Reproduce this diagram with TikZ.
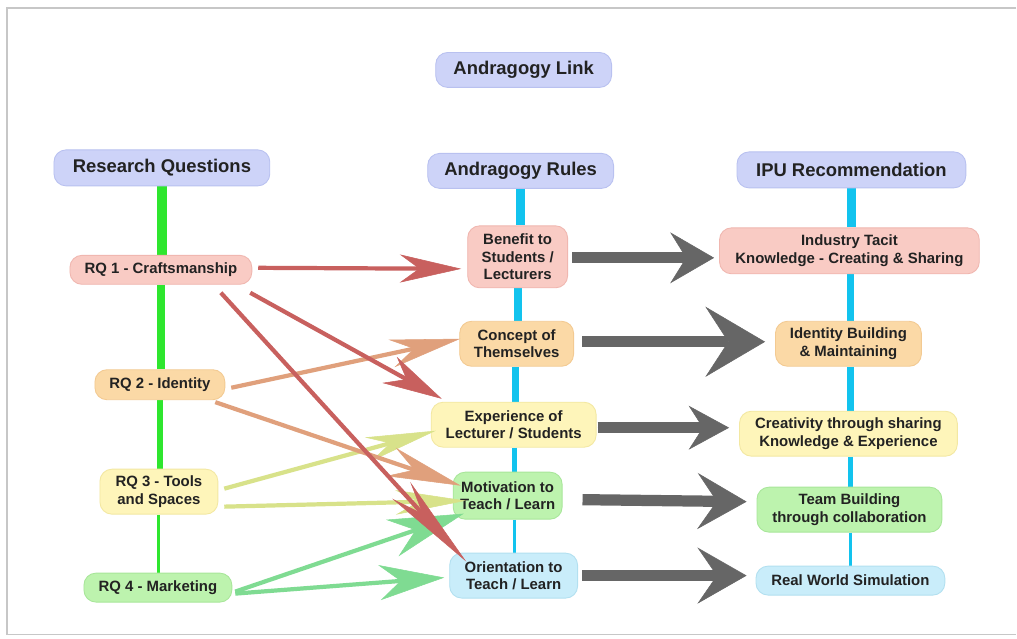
\documentclass[tikz,border=0pt]{standalone}
\usepackage{fontspec}
\setmainfont{Liberation Sans}
\usetikzlibrary{arrows.meta,calc,backgrounds}
\pgfdeclarelayer{paper}
\pgfsetlayers{paper,background,main}
\definecolor{hdrF}{HTML}{CDD3F8}\definecolor{hdrD}{HTML}{B9C1F0}
\definecolor{pinkF}{HTML}{F9CBC4}\definecolor{pinkD}{HTML}{F0B7B0}
\definecolor{orgF}{HTML}{FBD9A6}\definecolor{orgD}{HTML}{F3CA92}
\definecolor{yelF}{HTML}{FEF5BA}\definecolor{yelD}{HTML}{F3E8A2}
\definecolor{grnF}{HTML}{BDF3AE}\definecolor{grnD}{HTML}{A8E69A}
\definecolor{cyaF}{HTML}{C9EDFA}\definecolor{cyaD}{HTML}{B2E0F0}
\definecolor{gLine}{HTML}{2EE62E}\definecolor{bLine}{HTML}{12C3EE}
\definecolor{aRed}{HTML}{C8605E}\definecolor{aTan}{HTML}{E0A07C}
\definecolor{aYel}{HTML}{D8E28A}\definecolor{aGrn}{HTML}{7FDB92}
\definecolor{aGry}{HTML}{666666}\definecolor{txt}{HTML}{222222}
\begin{document}
\begin{tikzpicture}[x=0.02cm,y=-0.02cm,
  box/.style={rounded corners=0.24cm, inner sep=0pt, align=center, text=txt,
    font=\fontsize{8.5}{10}\selectfont\bfseries, line width=0.5pt},
  hdr/.style={box, fill=hdrF, draw=hdrD, font=\fontsize{10.5}{12.6}\selectfont\bfseries},
  pinkbox/.style={box, fill=pinkF, draw=pinkD},
  orgbox/.style={box, fill=orgF, draw=orgD},
  yelbox/.style={box, fill=yelF, draw=yelD},
  grnbox/.style={box, fill=grnF, draw=grnD},
  cyabox/.style={box, fill=cyaF, draw=cyaD},
  sz/.style 2 args={minimum width=#1, minimum height=#2},
  carrow/.style={line width=2.4pt, draw=#1, fill=#1},
  garrow/.style={line width=6.4pt, draw=aGry, fill=aGry},
  head/.style n args={3}{-{Stealth[length=#1,width=#2,inset=#3,line width=0.3pt]}}
]
\begin{pgfonlayer}{paper}
\fill[white] (0,0) rectangle (1017,639);
\draw[black!22, line width=0.8pt] (1017,8) -- (7,8) -- (7,635) -- (1017,635);
\end{pgfonlayer}
\useasboundingbox (0,0) rectangle (1017,639);

% headers
\node[hdr, sz={3.52cm}{0.70cm}] (link) at (524,70) {Andragogy Link};
\node[hdr, sz={4.32cm}{0.72cm}] (rqh) at (162,168) {Research Questions};
\node[hdr, sz={3.72cm}{0.70cm}] (arh) at (521,171) {Andragogy Rules};
\node[hdr, sz={4.58cm}{0.72cm}] (ipuh) at (852,170) {IPU Recommendation};

% research questions
\node[pinkbox, sz={3.64cm}{0.58cm}] (rq1) at (161,270) {RQ 1 - Craftsmanship};
\node[orgbox, sz={2.60cm}{0.60cm}] (rq2) at (160,385) {RQ 2 - Identity};
\node[yelbox, sz={2.36cm}{0.90cm}] (rq3) at (159,492) {RQ 3 - Tools\\and Spaces};
\node[grnbox, sz={2.96cm}{0.58cm}] (rq4) at (158,588) {RQ 4 - Marketing};

% andragogy rules
\node[pinkbox, sz={2.00cm}{1.24cm}] (ben) at (518,257) {Benefit to\\Students /\\Lecturers};
\node[orgbox, sz={2.28cm}{0.90cm}] (con) at (517,344) {Concept of\\Themselves};
\node[yelbox, sz={3.30cm}{0.90cm}] (exp) at (514,425) {Experience of\\Lecturer / Students};
\node[grnbox, sz={2.18cm}{0.94cm}] (mot) at (508,496) {Motivation to\\Teach / Learn};
\node[cyabox, sz={2.56cm}{0.90cm}] (ori) at (514,576) {Orientation to\\Teach / Learn};

% IPU recommendations
\node[pinkbox, sz={5.20cm}{0.92cm}] (ind) at (850,251) {Industry Tacit\\Knowledge - Creating \& Sharing};
\node[orgbox, sz={2.92cm}{0.90cm}] (idb) at (849,344) {Identity Building\\\& Maintaining};
\node[yelbox, sz={4.36cm}{0.90cm}] (cre) at (849,434) {Creativity through sharing\\Knowledge \& Experience};
\node[grnbox, sz={3.70cm}{0.90cm}] (team) at (850,510) {Team Building\\through collaboration};
\node[cyabox, sz={3.78cm}{0.58cm}] (real) at (851,581) {Real World Simulation};

% vertical column lines
\begin{scope}[on background layer]
\draw[gLine, line width=5.6pt] (rqh.south) -- (rqh.south |- rq1.north);
\draw[gLine, line width=5pt] (rq1.south) -- (rq1.south |- rq2.north);
\draw[gLine, line width=3.2pt] (rq2.south) -- (rq2.south |- rq3.north);
\draw[gLine, line width=1.6pt] (rq3.south) -- (rq3.south |- rq4.north);

\draw[bLine, line width=5pt] (arh.south) -- (arh.south |- ben.north);
\draw[bLine, line width=4.4pt] (ben.south) -- (ben.south |- con.north);
\draw[bLine, line width=3.6pt] ($(con.south)+(-1,0)$) -- ($(con.south |- exp.north)+(-1,0)$);
\draw[bLine, line width=2.8pt] ($(exp.south)+(1,0)$) -- ($(exp.south |- mot.north)+(1,0)$);
\draw[bLine, line width=1.8pt] ($(mot.south)+(7,0)$) -- ($(mot.south |- ori.north)+(7,0)$);

\draw[bLine, line width=5pt] (ipuh.south) -- (ipuh.south |- ind.north);
\draw[bLine, line width=4.4pt] ($(ind.south)+(1,0)$) -- ($(ind.south |- idb.north)+(1,0)$);
\draw[bLine, line width=3.6pt] ($(idb.south)+(2,0)$) -- ($(idb.south |- cre.north)+(2,0)$);
\draw[bLine, line width=2.8pt] ($(cre.south)+(2,0)$) -- ($(cre.south |- team.north)+(2,0)$);
\draw[bLine, line width=1.8pt] ($(team.south)+(1,0)$) -- ($(team.south |- real.north)+(1,0)$);
\end{scope}

% gray arrows rules -> IPU
\draw[garrow, head={25pt}{29pt}{9pt}] ($(ben.east)+(4,1)$) -- ($(ind.west)+(-5,7)$);
\draw[garrow, head={34pt}{40pt}{13pt}] ($(con.east)+(8,-2)$) -- ($(idb.west)+(-10,-2)$);
\draw[garrow, head={23pt}{25pt}{8pt}] ($(exp.east)+(1,3)$) -- ($(cre.west)+(-10,-6)$);
\draw[garrow, head={28pt}{32pt}{11pt}] ($(mot.east)+(20,4)$) -- ($(team.west)+(-10,-8)$);
\draw[garrow, head={28pt}{32pt}{11pt}] ($(ori.east)+(4,0)$) -- ($(real.west)+(-9,-5)$);

% coloured arrows from research questions
\draw[carrow=aYel, head={40pt}{14pt}{13pt}] ($(rq3.east)+(6,-3)$) -- ($(exp.west)+(5,6)$);
\draw[carrow=aTan, head={40pt}{16pt}{13pt}] ($(rq2.east)+(6,3)$) -- ($(con.west)+(1,-5)$);
\draw[carrow=aTan, head={42pt}{17pt}{14pt}] ($(rq2.south east)+(-10,2)$) -- ($(mot.west)+(8,-10)$);
\draw[carrow=aGrn, head={43pt}{22pt}{14pt}] ($(rq4.east)+(3,4)$) -- ($(mot.west)+(11,18)$);
\draw[carrow=aGrn, head={37pt}{20pt}{12pt}] ($(rq4.east)+(3,6)$) -- ($(ori.west)+(-5,2)$);
\draw[carrow=aYel, head={40pt}{14pt}{13pt}] ($(rq3.east)+(6,15)$) -- ($(mot.west)+(13,5)$);
\draw[carrow=aRed, head={35pt}{16pt}{11pt}] ($(rq1.east)+(6,-2)$) -- ($(ben.west)+(-6,12)$);
\draw[carrow=aRed, head={34pt}{17pt}{11pt}] ($(rq1.south east)+(-2,8)$) -- ($(exp.north west)+(11,-3)$);
\draw[carrow=aRed, head={55pt}{14pt}{18pt}] ($(rq1.south)+(60,8)$) -- ($(ori.west)+(17,-14)$);
\end{tikzpicture}
\end{document}
